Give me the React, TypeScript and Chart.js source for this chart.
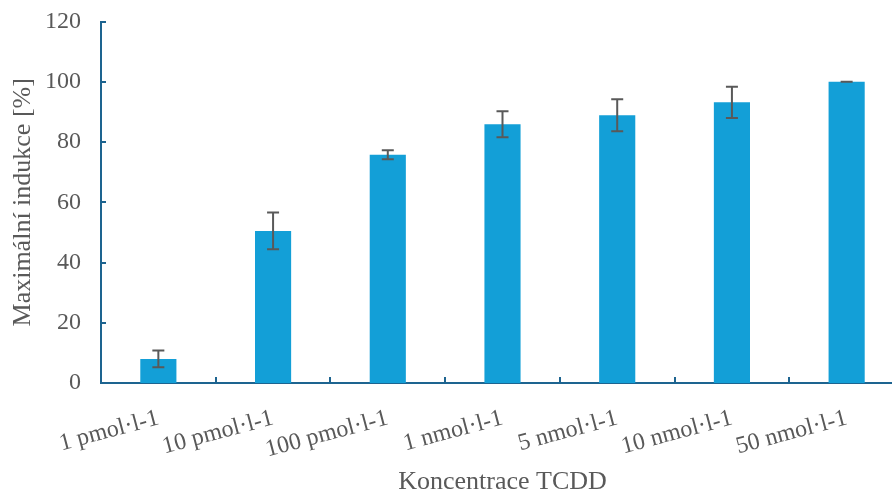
import React, { useEffect, useRef } from "react";
import { Chart, registerables } from "chart.js";

Chart.register(...registerables);

const categories = [
  "1 pmol·l-1",
  "10 pmol·l-1",
  "100 pmol·l-1",
  "1 nmol·l-1",
  "5 nmol·l-1",
  "10 nmol·l-1",
  "50 nmol·l-1",
];
const values = [8.0, 50.5, 75.8, 85.9, 88.9, 93.2, 100];
const errors = [2.8, 6.1, 1.5, 4.3, 5.3, 5.2, 0];
const yTicks = [0, 20, 40, 60, 80, 100, 120];

const AXIS_COLOR = "#1d6490";
const TEXT_COLOR = "#595959";
const FONT = "'Liberation Serif', 'DejaVu Serif', serif";

const decorPlugin = {
  id: "decor",
  afterDatasetsDraw(chart: any) {
    const ctx = chart.ctx;
    const x = chart.scales.x;
    const y = chart.scales.y;
    const area = chart.chartArea;
    ctx.save();
    ctx.strokeStyle = AXIS_COLOR;
    ctx.lineWidth = 2;
    yTicks.forEach((v) => {
      const py = Math.round(y.getPixelForValue(v));
      ctx.beginPath();
      ctx.moveTo(area.left, py);
      ctx.lineTo(area.left + 5, py);
      ctx.stroke();
    });
    const step = x.getPixelForValue(1) - x.getPixelForValue(0);
    for (let i = 1; i <= categories.length; i++) {
      const px = Math.round(x.getPixelForValue(i) - step / 2);
      ctx.beginPath();
      ctx.moveTo(px, area.bottom);
      ctx.lineTo(px, area.bottom - 6);
      ctx.stroke();
    }
    ctx.strokeStyle = "#595959";
    ctx.lineWidth = 2;
    values.forEach((v, i) => {
      const px = x.getPixelForValue(i);
      const top = y.getPixelForValue(v + errors[i]);
      const bot = y.getPixelForValue(v - errors[i]);
      const cap = 6;
      ctx.beginPath();
      ctx.moveTo(px, top);
      ctx.lineTo(px, bot);
      ctx.moveTo(px - cap, top);
      ctx.lineTo(px + cap, top);
      ctx.moveTo(px - cap, bot);
      ctx.lineTo(px + cap, bot);
      ctx.stroke();
    });
    ctx.restore();
  },
};

export default function App() {
  const ref = useRef<HTMLCanvasElement | null>(null);
  useEffect(() => {
    if (!ref.current) return;
    const chart = new Chart(ref.current, {
      type: "bar",
      data: {
        labels: categories,
        datasets: [
          {
            data: values,
            backgroundColor: "#139fd7",
            borderWidth: 0,
            barPercentage: 0.315,
            categoryPercentage: 1,
          },
        ],
      },
      options: {
        animation: false,
        responsive: false,
        maintainAspectRatio: false,
        layout: { padding: { top: 5, left: 8, right: 0, bottom: 0 } },
        plugins: { legend: { display: false }, tooltip: { enabled: false } },
        scales: {
          x: {
            offset: true,
            grid: { display: false },
            border: { display: true, color: AXIS_COLOR, width: 2 },
            ticks: {
              color: TEXT_COLOR,
              font: { family: FONT, size: 24 },
              minRotation: 15,
              maxRotation: 15,
              autoSkip: false,
              padding: 13,
            },
            title: {
              display: true,
              text: "Koncentrace TCDD",
              color: TEXT_COLOR,
              font: { family: FONT, size: 26 },
              padding: { top: 0, bottom: 0 },
            },
            afterFit(scale: any) {
              scale.height = 115;
            },
          },
          y: {
            min: 0,
            max: 120,
            grid: { display: false },
            border: { display: true, color: AXIS_COLOR, width: 2 },
            afterBuildTicks(scale: any) {
              scale.ticks = yTicks.map((v) => ({ value: v }));
            },
            ticks: {
              color: TEXT_COLOR,
              font: { family: FONT, size: 24, lineHeight: 0.8 },
              padding: 12,
            },
            title: {
              display: true,
              text: "Maximální indukce [%]",
              color: TEXT_COLOR,
              font: { family: FONT, size: 26 },
              padding: { top: 0, bottom: 0 },
            },
            afterFit(scale: any) {
              scale.width = 93;
            },
          },
        },
      },
      plugins: [decorPlugin],
    });
    return () => chart.destroy();
  }, []);
  return (
    <div
      style={{
        position: "fixed",
        left: 0,
        top: 0,
        width: 892,
        height: 498,
        overflow: "hidden",
        background: "#fff",
      }}
    >
      <canvas ref={ref} width={904} height={498} style={{ display: "block", width: 904, height: 498 }} />
    </div>
  );
}
